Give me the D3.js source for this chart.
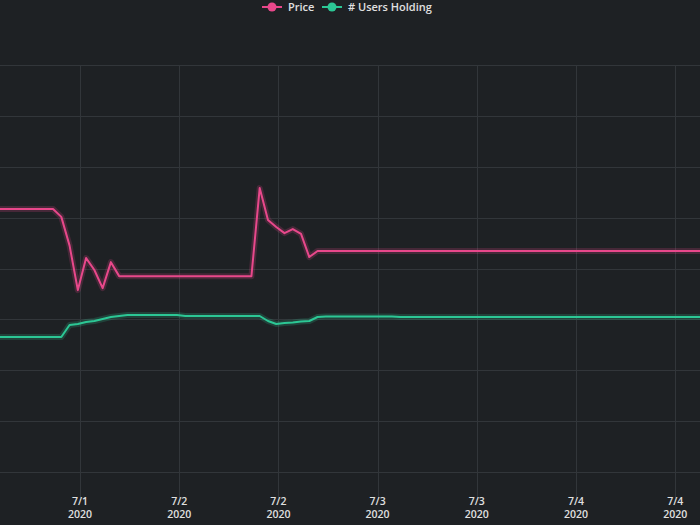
<!DOCTYPE html>
<html><head><meta charset="utf-8">
<script src="https://cdn.jsdelivr.net/npm/d3@7"></script>
<style>
html,body{margin:0;padding:0;background:#1e2124;}
svg{display:block;}
text{font-family:"Open Sans","Noto Sans",sans-serif;}
</style></head>
<body>
<script>
// ---- data ----
const seriesNames = ["Price", "# Users Holding"];
const priceTimes = ["2020-07-01T01:44","2020-07-01T08:44","2020-07-01T09:44","2020-07-01T10:44","2020-07-01T11:44","2020-07-01T12:44","2020-07-01T13:44","2020-07-01T14:44","2020-07-01T15:44","2020-07-01T16:44","2020-07-02T08:44","2020-07-02T09:44","2020-07-02T10:44","2020-07-02T11:44","2020-07-02T12:44","2020-07-02T13:44","2020-07-02T14:44","2020-07-02T15:44","2020-07-02T16:44","2020-07-04T15:44"];
const priceValues = [10.34,10.34,10.03,8.9,7.15,8.41,7.94,7.23,8.25,7.70,7.70,11.16,9.91,9.63,9.39,9.55,9.36,8.45,8.69,8.69];
const userTimes = ["2020-07-01T01:44","2020-07-01T09:44","2020-07-01T10:44","2020-07-01T11:44","2020-07-01T12:44","2020-07-01T13:44","2020-07-01T14:44","2020-07-01T15:44","2020-07-01T16:44","2020-07-01T17:44","2020-07-01T23:44","2020-07-02T00:44","2020-07-02T09:44","2020-07-02T10:44","2020-07-02T11:44","2020-07-02T12:44","2020-07-02T13:44","2020-07-02T14:44","2020-07-02T15:44","2020-07-02T16:44","2020-07-02T17:44","2020-07-03T01:44","2020-07-03T02:44","2020-07-04T15:44"];
const userValues = [2654,2654,2889,2909,2948,2968,3007,3047,3066,3086,3086,3066,3066,2968,2909,2929,2939,2958,2968,3047,3057,3057,3047,3047];
const xDomain = ["2020-07-01T02:19","2020-07-04T15:00"];
const priceDomain = [0, 16];
const userDomain = [0, 8000];
const colors = ["#e8488b", "#2cc795"];

// ---- layout ----
const W = 700, H = 525;
const plotTop = 65, plotBottom = 472, axisY = 492;
const parse = d3.isoParse;

const svg = d3.select("body").append("svg").attr("width", W).attr("height", H);
svg.append("rect").attr("width", W).attr("height", H).attr("fill", "#1e2124");

const x = d3.scaleTime().domain(xDomain.map(parse)).range([0, W]);
const yP = d3.scaleLinear().domain(priceDomain).range([plotBottom, plotTop]);
const yU = d3.scaleLinear().domain(userDomain).range([plotBottom, plotTop]);

const xTicks = x.ticks(d3.timeHour.every(12)).filter(t => t.getHours() === 12 || t.getHours() === 0)
  .filter(t => x(t) > 10 && x(t) < W - 5);

const grid = svg.append("g").attr("stroke", "#32363a").attr("stroke-width", 1);
yP.ticks(8).forEach(v => {
  grid.append("line").attr("x1", 0).attr("x2", W)
    .attr("y1", Math.round(yP(v)) + 0.5).attr("y2", Math.round(yP(v)) + 0.5);
});
xTicks.forEach(t => {
  grid.append("line").attr("y1", plotTop).attr("y2", axisY + 6)
    .attr("x1", Math.round(x(t)) + 0.5).attr("x2", Math.round(x(t)) + 0.5);
});

// x tick labels
const fmtMD = t => (t.getMonth() + 1) + "/" + t.getDate();
const lab = svg.append("g").attr("fill", "#e0e0e0").attr("font-size", 10.5).attr("font-weight", 600).attr("text-anchor", "middle");
xTicks.forEach(t => {
  lab.append("text").attr("x", x(t)).attr("y", 505).text(fmtMD(t));
  lab.append("text").attr("x", x(t)).attr("y", 518).text(d3.timeFormat("%Y")(t));
});

// lines
svg.append("clipPath").attr("id", "clip").append("rect").attr("x", 0).attr("y", 0).attr("width", W).attr("height", axisY);
const plot = svg.append("g").attr("clip-path", "url(#clip)");

const series = [
  {times: userTimes, values: userValues, y: yU, color: colors[1]},
  {times: priceTimes, values: priceValues, y: yP, color: colors[0]}
];
series.forEach(s => {
  const pts = s.times.map((t, i) => [x(parse(t)), s.y(s.values[i])]);
  const line = d3.line().curve(d3.curveLinear);
  plot.append("path").attr("d", line(pts)).attr("fill", "none")
    .attr("stroke", s.color).attr("stroke-opacity", 0.2).attr("stroke-width", 6).attr("stroke-linejoin", "round");
  plot.append("path").attr("d", line(pts)).attr("fill", "none")
    .attr("stroke", s.color).attr("stroke-width", 2).attr("stroke-linejoin", "round");
});

// legend
const legend = svg.append("g").attr("font-size", 11).attr("font-weight", 600).attr("fill", "#e0e0e0");
const legX = [262, 322];
seriesNames.forEach((n, i) => {
  const g = legend.append("g").attr("transform", `translate(${legX[i]},7)`);
  g.append("line").attr("x1", 0).attr("x2", 20).attr("stroke", colors[i]).attr("stroke-width", 2);
  g.append("circle").attr("cx", 10).attr("r", 4.5).attr("fill", colors[i]);
  g.append("text").attr("x", 26).attr("y", 4).text(n);
});
</script>
</body></html>
